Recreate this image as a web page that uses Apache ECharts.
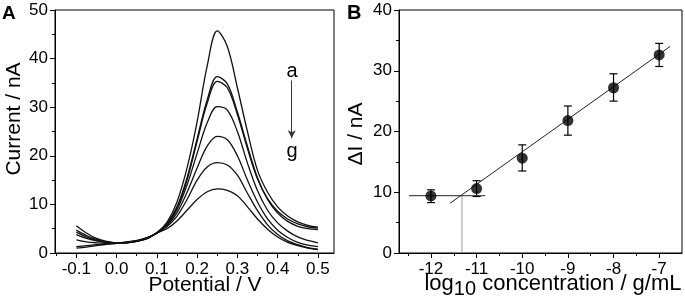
<!DOCTYPE html>
<html>
<head>
<meta charset="utf-8">
<script src="https://cdn.jsdelivr.net/npm/echarts@6/dist/echarts.min.js"></script>
<style>
  html, body { margin: 0; background: #fff; }
  #chart { width: 685px; height: 300px; }
</style>
</head>
<body>
<div id="chart"></div>
<script>
// panel A: DPV curves a..g
const potentials = [-0.1, -0.075, -0.05, -0.025, 0, 0.025, 0.05, 0.075, 0.1, 0.125, 0.15, 0.175,
  0.2, 0.225, 0.25, 0.275, 0.3, 0.325, 0.35, 0.375, 0.4, 0.425, 0.45, 0.475, 0.5];
const curveA = [4.7, 3.6, 2.8, 2.3, 2.1, 2.2, 2.5, 3.1, 4.2, 6.3, 10.5, 17.5, 27, 38.5, 45.7, 42.5, 34, 25, 17, 12.5, 9.5, 7.6, 6.4, 5.7, 5.3];
const curveB = [5.6, 4.1, 3.0, 2.4, 2.1, 2.2, 2.5, 3.1, 4.1, 6.0, 9.5, 15.5, 23.5, 31.5, 36.3, 34.8, 29, 22, 15.5, 11, 8.2, 6.5, 5.5, 5.0, 4.8];
const curveC = [4.3, 3.3, 2.6, 2.2, 2.0, 2.1, 2.4, 3.0, 4.1, 5.9, 9.3, 15.0, 23.0, 30.8, 35.3, 34.0, 28.5, 21.5, 15.2, 11.2, 8.6, 7.0, 6.0, 5.4, 5.1];
const curveD = [3.8, 3.0, 2.5, 2.2, 2.0, 2.1, 2.4, 3.0, 4.1, 5.8, 8.9, 14.0, 20.5, 26.8, 30.1, 29.4, 25, 18.5, 12.8, 8.8, 6.2, 4.5, 3.3, 2.6, 2.1];
const curveE = [2.7, 2.3, 2.1, 2.0, 2.0, 2.1, 2.4, 2.9, 4.1, 5.6, 8.3, 12.5, 17.5, 22, 24.0, 23.3, 20, 15, 10.5, 7.0, 4.7, 3.2, 2.2, 1.6, 1.3];
const curveF = [1.3, 1.5, 1.7, 1.9, 2.0, 2.2, 2.5, 3.0, 4.1, 5.4, 7.6, 11.0, 15.0, 17.7, 18.6, 18.1, 16, 12.3, 8.7, 5.8, 3.8, 2.5, 1.7, 1.1, 0.8];
const curveG = [1.0, 1.2, 1.5, 1.8, 2.0, 2.3, 2.6, 3.1, 4.1, 5.0, 6.6, 8.8, 11.0, 12.6, 13.2, 12.9, 11.8, 9.5, 7.0, 4.9, 3.3, 2.2, 1.5, 1.0, 0.7];
const curves = [curveA, curveB, curveC, curveD, curveE, curveF, curveG];
const ticksA = [-0.1, 0, 0.1, 0.2, 0.3, 0.4, 0.5];
const minorTicksA = [-0.15, -0.05, 0.05, 0.15, 0.25, 0.35, 0.45];
const arrowA = [[0.435, 35.5], [0.435, 23.6]];

// panel B: calibration
const logConc = [-12, -11, -10, -9, -8, -7];
const deltaI = [9.4, 10.6, 15.6, 21.8, 27.2, 32.6];
const errLow = [8.3, 9.3, 13.5, 19.4, 25.0, 30.7];
const errHigh = [10.4, 11.9, 17.8, 24.2, 29.5, 34.5];
const fitLine = [[-11.58, 8.2], [-6.76, 34.0]];
const blankLine = [[-12.48, 9.43], [-10.81, 9.43]];
const lodLine = [[-11.32, 0], [-11.32, 9.43]];
const ticksB = [-12, -11, -10, -9, -8, -7];
const minorTicksB = [-12.5, -11.5, -10.5, -9.5, -8.5, -7.5];

const font = "'Liberation Sans', Arial, sans-serif";
const chart = echarts.init(document.getElementById('chart'));

function mainX(grid, min, max, ticks, fmt) {
  return {
    type: 'value', gridIndex: grid, min: min, max: max, position: 'bottom',
    axisLine: { onZero: false, lineStyle: { color: '#000', width: 1 } },
    axisTick: { customValues: ticks, length: 5, lineStyle: { color: '#000' } },
    axisLabel: { customValues: ticks, formatter: fmt, color: '#000', fontSize: 17, fontFamily: font, margin: 8 },
    splitLine: { show: false }
  };
}
function minorX(grid, min, max, ticks) {
  return {
    type: 'value', gridIndex: grid, min: min, max: max, position: 'bottom',
    axisLine: { show: false, onZero: false },
    axisTick: { customValues: ticks, length: 3, lineStyle: { color: '#000' } },
    axisLabel: { show: false },
    splitLine: { show: false }
  };
}
function mainY(grid, max) {
  return {
    type: 'value', gridIndex: grid, min: 0, max: max, interval: 10,
    axisLine: { show: true, onZero: false, lineStyle: { color: '#000', width: 1 } },
    axisTick: { show: true, length: 5, lineStyle: { color: '#000' } },
    minorTick: { show: true, splitNumber: 2, length: 3, lineStyle: { color: '#000' } },
    axisLabel: { color: '#000', fontSize: 17, fontFamily: font, margin: 7 },
    splitLine: { show: false }
  };
}

const series = curves.map((c, i) => ({
  type: 'line', xAxisIndex: 0, yAxisIndex: 0, smooth: 0.35, symbol: 'none',
  lineStyle: { color: '#111', width: 1.3 },
  data: potentials.map((p, j) => [p, c[j]]),
  markLine: i === 0 ? {
    silent: true, symbol: ['none', 'arrow'], symbolSize: [6, 8],
    lineStyle: { color: '#333', width: 1, type: 'solid' }, label: { show: false },
    data: [[{ coord: arrowA[0] }, { coord: arrowA[1] }]]
  } : undefined
}));

series.push(
  { type: 'line', xAxisIndex: 2, yAxisIndex: 1, symbol: 'none', data: lodLine,
    lineStyle: { color: '#999', width: 1 } },
  { type: 'line', xAxisIndex: 2, yAxisIndex: 1, symbol: 'none', data: blankLine,
    lineStyle: { color: '#222', width: 1 } },
  { type: 'line', xAxisIndex: 2, yAxisIndex: 1, symbol: 'none', data: fitLine,
    lineStyle: { color: '#222', width: 1 } },
  { type: 'custom', xAxisIndex: 2, yAxisIndex: 1,
    data: logConc.map((x, i) => [x, errLow[i], errHigh[i]]),
    renderItem: function (params, api) {
      const lo = api.coord([api.value(0), api.value(1)]);
      const hi = api.coord([api.value(0), api.value(2)]);
      const w = 4;
      const st = { stroke: '#000', lineWidth: 1.2 };
      return { type: 'group', children: [
        { type: 'line', shape: { x1: lo[0], y1: lo[1], x2: hi[0], y2: hi[1] }, style: st },
        { type: 'line', shape: { x1: lo[0] - w, y1: lo[1], x2: lo[0] + w, y2: lo[1] }, style: st },
        { type: 'line', shape: { x1: hi[0] - w, y1: hi[1], x2: hi[0] + w, y2: hi[1] }, style: st }
      ] };
    }
  },
  { type: 'scatter', xAxisIndex: 2, yAxisIndex: 1, symbol: 'circle', symbolSize: 11,
    itemStyle: { color: '#000' }, data: logConc.map((x, i) => [x, deltaI[i]]), z: 5 }
);

const txt = (x, y, text, size, extra) => Object.assign({
  type: 'text', x: x, y: y,
  style: { text: text, fill: '#000', font: size + 'px ' + font, align: 'center', verticalAlign: 'middle' }
}, extra || {});

chart.setOption({
  animation: false,
  grid: [
    { left: 55, top: 10, width: 279, height: 243, show: true, borderColor: '#000', borderWidth: 1 },
    { left: 399, top: 10, width: 283, height: 243, show: true, borderColor: '#000', borderWidth: 1 }
  ],
  xAxis: [
    mainX(0, -0.153, 0.54, ticksA, v => v.toFixed(1)),
    minorX(0, -0.153, 0.54, minorTicksA),
    mainX(1, -12.7, -6.5, ticksB, v => String(v)),
    minorX(1, -12.7, -6.5, minorTicksB)
  ],
  yAxis: [mainY(0, 50), mainY(1, 40)],
  series: series,
  graphic: [
    { type: 'text', x: 2, y: 4, style: { text: 'A', fill: '#000', font: 'bold 19px ' + font } },
    { type: 'text', x: 347, y: 3, style: { text: 'B', fill: '#000', font: 'bold 20px ' + font } },
    txt(14, 119, 'Current / nA', 21, { rotation: Math.PI / 2 }),
    txt(205, 285, 'Potential / V', 21),
    txt(292, 71, 'a', 20),
    txt(292, 151, 'g', 20),
    txt(356, 134, 'ΔI / nA', 21, { rotation: Math.PI / 2 }),
    { type: 'text', x: 553, y: 284,
      style: { text: '{n|log}{s|10}{n| concentration / g/mL}', align: 'center', verticalAlign: 'middle',
        rich: { n: { fontSize: 22, fontFamily: font, color: '#000' },
                s: { fontSize: 20, fontFamily: font, color: '#000', padding: [10, 0, 0, 0] } } } }
  ]
});
</script>
</body>
</html>
